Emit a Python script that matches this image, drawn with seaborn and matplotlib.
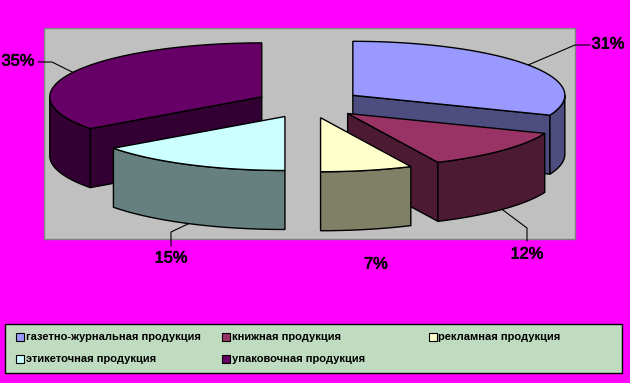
import numpy as np
import seaborn as sns
import matplotlib.pyplot as plt
import matplotlib.patheffects as pe
from matplotlib.patches import Rectangle

# данные
categories = ["газетно-журнальная продукция", "книжная продукция", "рекламная продукция",
              "этикеточная продукция", "упаковочная продукция"]
shares = [31, 12, 7, 15, 35]
top_colors = ["#9999FF", "#993366", "#FFFFCC", "#CCFFFF", "#660066"]
side_colors = ["#4D4D80", "#4D1A33", "#808066", "#668080", "#330033"]

# геометрия псевдо-3D круга, в пикселях картинки
cx, cy = 309, 103.5
rx, ry = 212, 54
depth = 59
explode_x, explode_y = 0.25, 0.27

sns.set_theme(style="white")
plt.rcParams['font.family'] = ['Liberation Sans', 'DejaVu Sans']
palette_top = sns.color_palette(top_colors)
palette_side = sns.color_palette(side_colors)

fig = plt.figure(figsize=(6.3, 3.83), dpi=100, facecolor="#FF00FF")
ax = fig.add_axes([0, 0, 1, 1])
ax.set_xlim(0, 630)
ax.set_ylim(383, 0)
ax.axis("off")

# серая область построения
ax.add_patch(Rectangle((44, 27.5), 531, 211.5, fc="#C0C0C0", ec="#808080", lw=1, zorder=0))


def point(ox, oy, a, dz=0):
    return ox + rx * np.sin(a), oy - ry * np.cos(a) + dz


def poly(xs, ys, color, z):
    ax.fill(xs, ys, facecolor=color, edgecolor="black", lw=1, joinstyle="miter", zorder=z)


edges = np.cumsum([0] + shares) / sum(shares) * 2 * np.pi
label_anchor = {}
draw_order = [4, 0, 1, 3, 2]
for z, i in enumerate(draw_order):
    a0, a1 = edges[i], edges[i + 1]
    mid = (a0 + a1) / 2
    ox = cx + explode_x * rx * np.sin(mid)
    oy = cy - explode_y * ry * np.cos(mid)
    zz = 2 + z * 3

    # боковая плоскость разреза
    for a, visible in ((a0, np.pi < a0 < 2 * np.pi - 1e-6), (a1, 1e-6 < a1 < np.pi - 1e-6)):
        if visible:
            x, y = point(ox, oy, a)
            poly([ox, x, x, ox], [oy, y, y + depth, oy + depth], palette_side[i], zz)

    # внешняя дуга, только передняя половина
    lo, hi = max(a0, np.pi / 2), min(a1, 3 * np.pi / 2)
    if hi > lo:
        t = np.linspace(lo, hi, 60)
        x, y = point(ox, oy, t)
        poly(np.r_[x, x[::-1]], np.r_[y, (y + depth)[::-1]], palette_side[i], zz + 1)

    # верхняя грань
    t = np.linspace(a0, a1, 120)
    x, y = point(ox, oy, t)
    poly(np.r_[ox, x], np.r_[oy, y], palette_top[i], zz + 2)

    label_anchor[i] = (ox, oy, mid)

# подписи долей и выноски
label_xy = [(608, 44), (527, 254), (376, 264), (171, 258), (18, 61)]
leader_mid = {0: [(575, 45), (590, 45)], 1: [(527, 228), (527, 241)],
              3: [(171, 232), (171, 246)], 4: [(52, 62), (38, 62)]}
thick = [pe.withStroke(linewidth=0.5, foreground="black")]
for i, s in enumerate(shares):
    ax.text(*label_xy[i], f"{s}%", ha="center", va="center", fontsize=11.8,
            color="black", zorder=40, path_effects=thick)
    if i in leader_mid:
        ox, oy, mid = label_anchor[i]
        x, y = point(ox, oy, mid, depth if np.cos(mid) < 0 else 0)
        pts = [(x, y)] + leader_mid[i]
        ax.plot([p[0] for p in pts], [p[1] for p in pts], color="black", lw=0.8, zorder=39)

# легенда
ax.add_patch(Rectangle((4.5, 324), 617, 49, fc="#C0DCC0", ec="black", lw=1, zorder=30))
col_x = [16, 222, 429]
row_y = [337, 359]
slots = [(0, 0), (1, 0), (2, 0), (0, 1), (1, 1)]
for i, name in enumerate(categories):
    c, r = slots[i]
    ax.add_patch(Rectangle((col_x[c], row_y[r] - 4), 7.5, 8, fc=palette_top[i], ec="black",
                           lw=0.8, zorder=31))
    ax.text(col_x[c] + 9.5, row_y[r], name, ha="left", va="center", fontsize=8.05,
            fontweight="bold", color="black", zorder=31)

fig.savefig("out.png", dpi=100, facecolor=fig.get_facecolor())
